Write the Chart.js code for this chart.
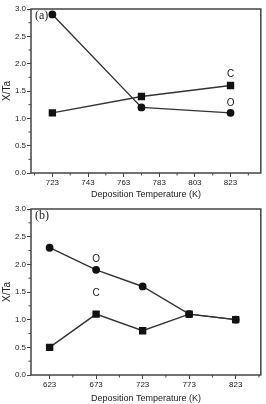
<!DOCTYPE html>
<html>
<head>
<meta charset="utf-8">
<script src="https://cdn.jsdelivr.net/npm/chart.js@4.4.1/dist/chart.umd.min.js"></script>
<style>
  html, body { margin: 0; padding: 0; background: #fff; }
  .panel { position: relative; width: 266px; }
  #panelA { height: 200px; }
  #panelB { height: 204px; }
</style>
</head>
<body>
<div class="panel" id="panelA"><canvas id="chartA"></canvas></div>
<div class="panel" id="panelB"><canvas id="chartB"></canvas></div>
<script>
// --- datos del panel (a) ---
const tempA = [723, 773, 823];
const carbonoA = [1.1, 1.4, 1.6];
const oxigenoA = [2.9, 1.2, 1.1];
const ticksXA = [723, 743, 763, 783, 803, 823];
const menoresXA = [713, 733, 753, 773, 793, 813, 833];

// --- datos del panel (b) ---
const tempB = [623, 673, 723, 773, 823];
const oxigenoB = [2.3, 1.9, 1.6, 1.1, 1.0];
const carbonoB = [0.5, 1.1, 0.8, 1.1, 1.0];
const ticksXB = [623, 673, 723, 773, 823];
const menoresXB = [648, 698, 748, 798, 848];

// eje Y comun
const ticksY = [0.0, 0.5, 1.0, 1.5, 2.0, 2.5, 3.0];
const menoresY = [0.25, 0.75, 1.25, 1.75, 2.25, 2.75];

const fuente = "'Liberation Sans', Arial, sans-serif";

// marco completo + ticks menores + rotulos
const pluginMarco = {
  id: 'marco',
  afterDraw(chart, args, opts) {
    const ctx = chart.ctx;
    const a = chart.chartArea;
    const sx = chart.scales.x, sy = chart.scales.y;
    ctx.save();
    ctx.strokeStyle = '#444';
    ctx.lineWidth = 1.5;
    ctx.strokeRect(a.left, a.top, a.right - a.left, a.bottom - a.top);
    ctx.lineWidth = 1;
    ctx.beginPath();
    opts.menoresX.forEach(v => {
      const px = sx.getPixelForValue(v);
      ctx.moveTo(px, a.bottom);
      ctx.lineTo(px, a.bottom + 2.5);
    });
    opts.menoresY.forEach(v => {
      const py = sy.getPixelForValue(v);
      ctx.moveTo(a.left, py);
      ctx.lineTo(a.left - 2.5, py);
    });
    ctx.stroke();

    // etiqueta del panel
    ctx.fillStyle = '#222';
    ctx.font = "12px 'Liberation Serif', 'Times New Roman', serif";
    ctx.textBaseline = 'middle';
    ctx.textAlign = 'left';
    ctx.fillText(opts.panel, a.left + 4, a.top + 7);

    // rotulos C / O sobre los puntos
    ctx.font = "10px " + fuente;
    ctx.textAlign = 'center';
    opts.rotulos.forEach(r => {
      const meta = chart.getDatasetMeta(r.serie);
      const pt = meta.data[r.indice];
      ctx.fillText(r.texto, pt.x, pt.y - r.arriba);
    });
    ctx.restore();
  }
};

function crearGrafico(id, temps, serieO, serieC, ticksX, menoresX, minX, maxX, panel, rotulos, altoEjeX) {
  const ctx = document.getElementById(id).getContext('2d');
  return new Chart(ctx, {
    type: 'line',
    data: {
      labels: temps,
      datasets: [
        {
          label: 'O',
          data: temps.map((t, i) => ({ x: t, y: serieO[i] })),
          borderColor: '#333',
          backgroundColor: '#111',
          borderWidth: 1.4,
          pointStyle: 'circle',
          pointRadius: 3.9,
          pointBorderWidth: 0,
          tension: 0
        },
        {
          label: 'C',
          data: temps.map((t, i) => ({ x: t, y: serieC[i] })),
          borderColor: '#333',
          backgroundColor: '#111',
          borderWidth: 1.4,
          pointStyle: 'rect',
          pointRadius: 5.2,
          pointBorderWidth: 0,
          tension: 0
        }
      ]
    },
    options: {
      responsive: true,
      maintainAspectRatio: false,
      animation: false,
      layout: { padding: { top: 9, right: 4, left: 1, bottom: 0 } },
      plugins: {
        legend: { display: false },
        tooltip: { enabled: false },
        marco: { menoresX: menoresX, menoresY: menoresY, panel: panel, rotulos: rotulos }
      },
      scales: {
        x: {
          type: 'linear',
          min: minX,
          max: maxX,
          afterBuildTicks: s => { s.ticks = ticksX.map(v => ({ value: v })); },
          afterFit: s => { s.height = altoEjeX; },
          grid: { drawOnChartArea: false, drawTicks: true, tickLength: 4, color: '#444' },
          border: { display: false },
          ticks: { color: '#222', font: { size: 8, family: fuente }, padding: 1, maxRotation: 0 },
          title: { display: true, text: 'Deposition Temperature (K)', color: '#222', font: { size: 9, family: fuente }, padding: { top: 2, bottom: 0 } }
        },
        y: {
          min: 0,
          max: 3,
          afterBuildTicks: s => { s.ticks = ticksY.map(v => ({ value: v })); },
          afterFit: s => { s.width = 30; },
          grid: { drawOnChartArea: false, drawTicks: true, tickLength: 4, color: '#444' },
          border: { display: false },
          ticks: { color: '#222', font: { size: 8, family: fuente }, padding: 1, callback: v => v.toFixed(1) },
          title: { display: true, text: 'X/Ta', color: '#222', font: { size: 10, family: fuente }, padding: { top: 0, bottom: 0 } }
        }
      }
    },
    plugins: [pluginMarco]
  });
}

crearGrafico('chartA', tempA, oxigenoA, carbonoA, ticksXA, menoresXA, 711, 840, '(a)',
  [{ serie: 1, indice: 2, texto: 'C', arriba: 11 }, { serie: 0, indice: 2, texto: 'O', arriba: 10 }], 27);

crearGrafico('chartB', tempB, oxigenoB, carbonoB, ticksXB, menoresXB, 603, 850, '(b)',
  [{ serie: 0, indice: 1, texto: 'O', arriba: 11 }, { serie: 1, indice: 1, texto: 'C', arriba: 21 }], 29);
</script>
</body>
</html>
